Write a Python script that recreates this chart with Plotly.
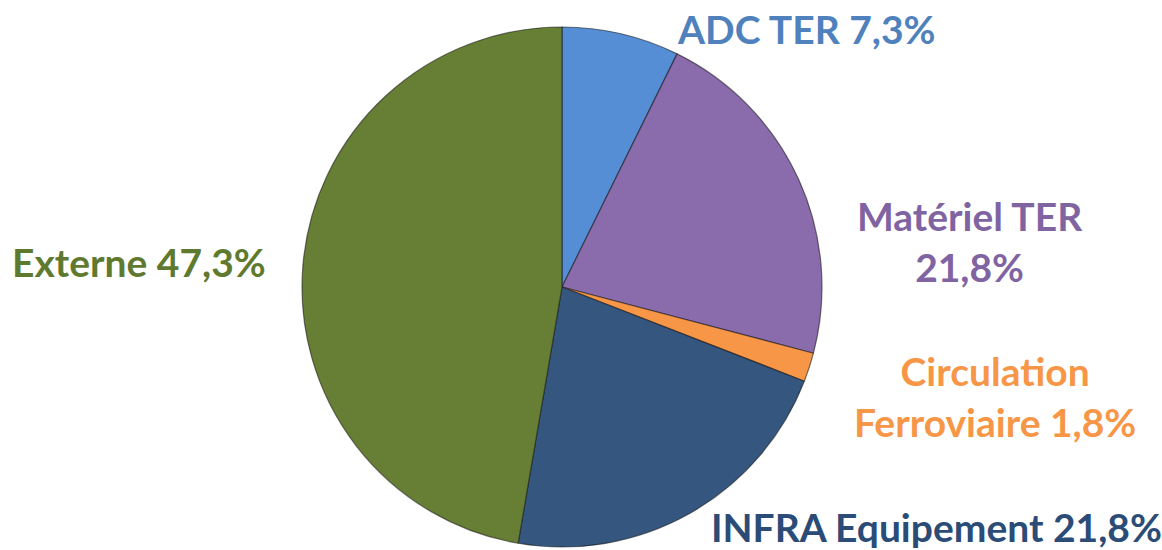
import plotly.graph_objects as go

categories = ["ADC TER", "Matériel TER", "Circulation Ferroviaire", "INFRA Equipement", "Externe"]
values = [7.3, 21.8, 1.8, 21.8, 47.3]
label_texts = ["ADC TER 7,3%", "Matériel TER<br>21,8%", "Circulation<br>Ferroviaire 1,8%",
               "INFRA Equipement 21,8%", "Externe 47,3%"]
slice_colors = ["#558ed5", "#8a6bab", "#f79646", "#34567f", "#677f35"]
text_colors = ["#4f81bd", "#8064a2", "#f79646", "#2b4c76", "#5f7a2f"]
label_pos = [(806, 29), (970, 242), (995, 396), (936, 527), (139, 262)]

W, H = 1162, 550
fig = go.Figure()
fig.add_trace(go.Pie(
    labels=categories, values=values, sort=False, direction="clockwise", rotation=0,
    marker=dict(colors=slice_colors, line=dict(color="rgba(20,20,20,0.55)", width=1.2)),
    textinfo="none", hoverinfo="label+percent", showlegend=False,
    domain=dict(x=[302 / W, 822 / W], y=[1 - 547 / H, 1 - 27 / H]),
))
for txt, col, (px, py) in zip(label_texts, text_colors, label_pos):
    fig.add_annotation(text="<b>" + txt + "</b>", x=px / W, y=1 - py / H, xref="paper", yref="paper",
                       xanchor="center", yanchor="middle", showarrow=False, align="center",
                       font=dict(family="Lato", size=39, color=col))
fig.update_layout(width=W, height=H, margin=dict(l=0, r=0, t=0, b=0),
                  paper_bgcolor="white", plot_bgcolor="white")
fig.write_html("out.html", config={"displayModeBar": False},
               post_script="document.body.style.margin='0';")
